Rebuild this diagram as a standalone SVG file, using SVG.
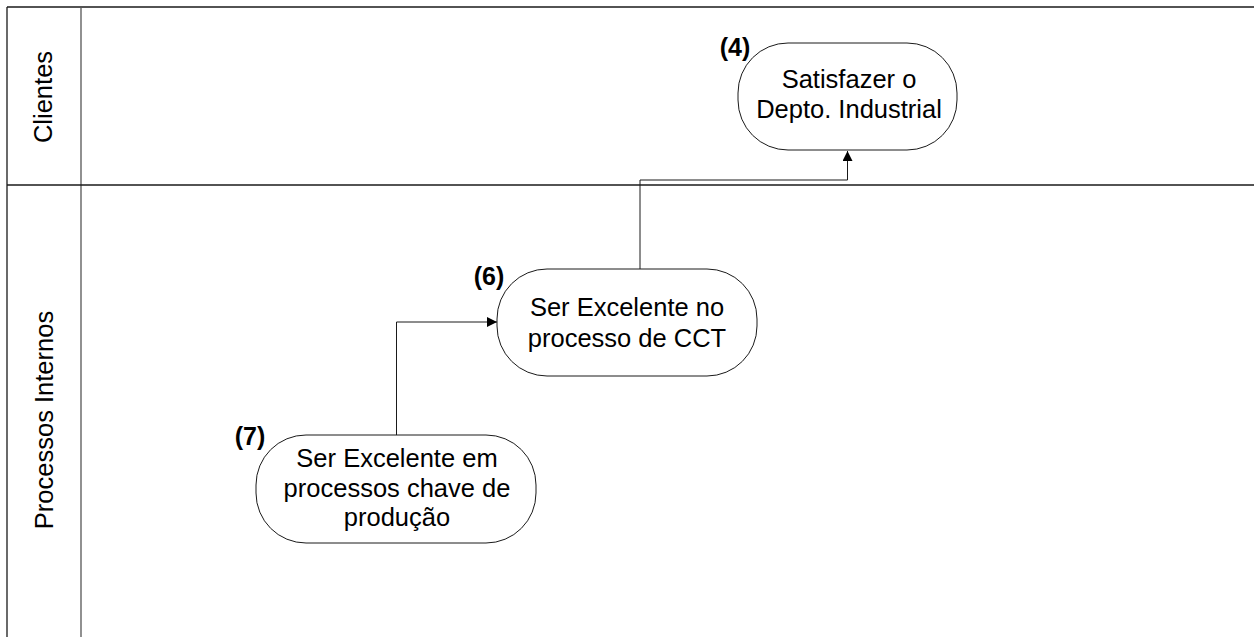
<svg xmlns="http://www.w3.org/2000/svg" width="1254" height="637" viewBox="0 0 1254 637">
<style>
.lane{stroke:#1a1a1a;stroke-width:1.3;fill:none}
.lanein{stroke:#555;stroke-width:1.3;fill:none}
.node{fill:#fff;stroke:#1a1a1a;stroke-width:1}
.t{font-family:"Liberation Sans",Arial,sans-serif;font-size:25.5px;fill:#000;text-anchor:middle}
.n{font-family:"Liberation Sans",Arial,sans-serif;font-size:25px;font-weight:bold;fill:#000;text-anchor:middle}
.c{stroke:#1a1a1a;stroke-width:1;fill:none}
</style>
<defs>
<marker id="arr" markerWidth="10" markerHeight="10" refX="10" refY="5" orient="auto" markerUnits="userSpaceOnUse">
<path d="M0,0 L10,5 L0,10 Z" fill="#000"/>
</marker>
</defs>
<rect width="1254" height="637" fill="#fff"/>
<g id="lanes">
<line class="lane" x1="7" y1="7" x2="1254" y2="7"/>
<line class="lane" x1="7" y1="7" x2="7" y2="637"/>
<line class="lanein" x1="81" y1="7" x2="81" y2="637"/>
<line class="lane" x1="7" y1="185" x2="1254" y2="185"/>
<text class="t" transform="translate(52,97) rotate(-90)">Clientes</text>
<text class="t" transform="translate(53,420) rotate(-90)">Processos Internos</text>
</g>
<g id="connectors">
<path class="c" d="M640,269 V180 H847.5 V151" marker-end="url(#arr)"/>
<path class="c" d="M396.5,435 V322 H497" marker-end="url(#arr)"/>
</g>
<g id="node4">
<rect class="node" x="738" y="43" width="219" height="107" rx="50" ry="50"/>
<text class="n" x="735" y="56">(4)</text>
<text class="t" x="849" y="88">Satisfazer o</text>
<text class="t" x="849" y="118">Depto. Industrial</text>
</g>
<g id="node6">
<rect class="node" x="497" y="269" width="260" height="107" rx="50" ry="50"/>
<text class="n" x="489" y="285">(6)</text>
<text class="t" x="627" y="316">Ser Excelente no</text>
<text class="t" x="627" y="347">processo de CCT</text>
</g>
<g id="node7">
<rect class="node" x="256" y="435" width="280" height="108" rx="50" ry="50"/>
<text class="n" x="250" y="445">(7)</text>
<text class="t" x="397" y="467">Ser Excelente em</text>
<text class="t" x="397" y="497">processos chave de</text>
<text class="t" x="397" y="526">produção</text>
</g>
</svg>
